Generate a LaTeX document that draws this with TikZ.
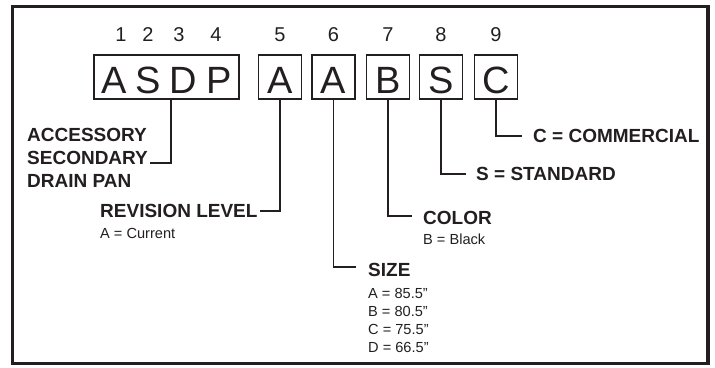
\documentclass[tikz,border=0pt]{standalone}
\usepackage{fontspec}
\setmainfont{Liberation Sans}
\usepackage{tikz}
\usetikzlibrary{positioning}
\definecolor{ink}{HTML}{231F20}

\begin{document}
\begin{tikzpicture}[x=1pt, y=-1pt, color=ink,
  codebox/.style={draw, line width=1.7pt, minimum width=43pt, minimum height=44pt, inner sep=0pt,
    font=\fontsize{38}{38}\selectfont, text height=32pt, text depth=0pt},
  num/.style={font=\fontsize{20}{20}\selectfont, inner sep=0pt},
  title/.style={font=\fontsize{19}{23}\selectfont\bfseries, inner sep=2pt, align=left},
  note/.style={font=\fontsize{14.6}{18}\selectfont, inner sep=2pt, align=left},
  lead/.style={line width=1.5pt}]

\useasboundingbox (0,0) rectangle (715,367);
\draw[line width=3.5pt] (12.5,6.5) rectangle (708,363.5);

% model number boxes
\node (asdp) [codebox, minimum width=145pt] at (166.5,77) {A\hspace{9pt}S\hspace{9pt}D\hspace{9pt}P};
\node (b5) [codebox] at (280,77) {A};
\node (b6) [codebox] at (333.5,77) {A};
\node (b7) [codebox] at (388,77) {B};
\node (b8) [codebox] at (441,77) {S};
\node (b9) [codebox] at (496,77) {C};

% digit positions
\node (n1) [num] at (121,35) {1};
\node (n2) [num] at (148,35) {2};
\node (n3) [num] at (179,35) {3};
\node (n4) [num] at (216,35) {4};
\node (n5) [num, above=12pt of b5] {5};
\node (n6) [num, above=12pt of b6] {6};
\node (n7) [num, above=12pt of b7] {7};
\node (n8) [num, above=12pt of b8] {8};
\node (n9) [num, above=12pt of b9] {9};

% descriptions
\node (acc) [title, anchor=west] at (25,158) {ACCESSORY\\SECONDARY\\DRAIN PAN};
\node (rev) [title, anchor=west] at (98,211) {REVISION LEVEL};
\node (revnote) [note, below=6pt of rev.south west, anchor=north west] {A = Current};
\node (size) [title, anchor=west] at (366,270) {SIZE};
\node (sizenote) [note, below=7pt of size.south west, anchor=north west]
  {A = 85.5”\\B = 80.5”\\C = 75.5”\\D = 66.5”};
\node (color) [title, anchor=west] at (421,218) {COLOR};
\node (colornote) [note, below=5pt of color.south west, anchor=north west] {B = Black};
\node (std) [title, anchor=west] at (474,174) {S = STANDARD};
\node (comm) [title, anchor=west] at (531,136) {C = COMMERCIAL};

\draw[lead] ([xshift=4.5pt]asdp.south) |- ([yshift=-5pt]acc.east);
\draw[lead] (b5.south) |- (rev.east);
\draw[lead] (b6.south) |- ([xshift=-10pt,yshift=3pt]size.west);
\draw[lead] (b7.south) |- ([xshift=-9pt,yshift=2pt]color.west);
\draw[lead] (b8.south) |- ([xshift=-8pt]std.west);
\draw[lead] (b9.south) |- ([xshift=-9pt]comm.west);

\end{tikzpicture}
\end{document}
